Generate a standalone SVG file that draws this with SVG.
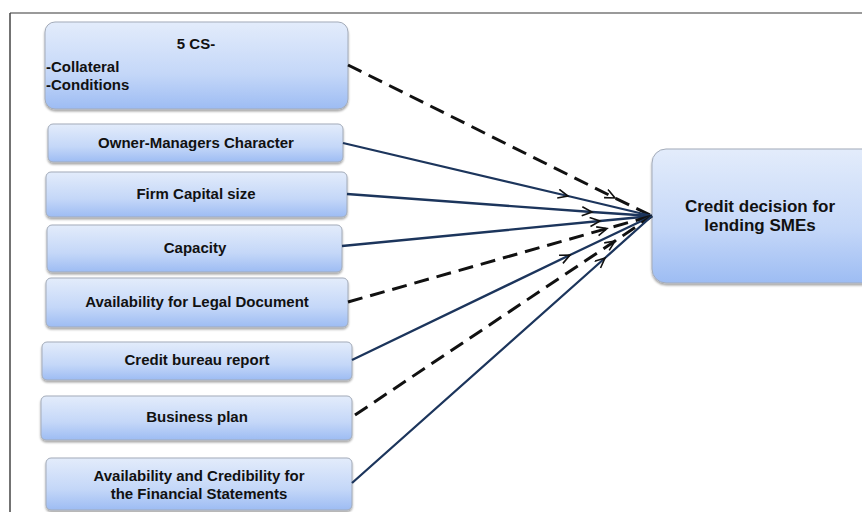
<svg xmlns="http://www.w3.org/2000/svg" width="862" height="512" viewBox="0 0 862 512">
<defs>
<linearGradient id="g" x1="0" y1="0" x2="0" y2="1">
<stop offset="0" stop-color="#e3ecfb"/>
<stop offset="0.6" stop-color="#c4d7f8"/>
<stop offset="1" stop-color="#9dbcf3"/>
</linearGradient>
<filter id="sh" x="-5%" y="-10%" width="110%" height="130%">
<feDropShadow dx="0" dy="2" stdDeviation="1.2" flood-color="#000" flood-opacity="0.35"/>
</filter>
<marker id="ah" markerUnits="userSpaceOnUse" markerWidth="14" markerHeight="12" refX="11" refY="5" orient="auto">
<path d="M1,0.5 L11,5 L1,9.5" fill="none" stroke="#111" stroke-width="1.6"/>
</marker>
</defs>
<style>
.box{fill:url(#g);stroke:#a3abb9;stroke-width:1;filter:url(#sh)}
.t{font-family:"Liberation Sans",Arial,sans-serif;font-weight:bold;font-size:15px;fill:#111;text-anchor:middle}
.tl{text-anchor:start}
.big{font-size:17px}
.solid{fill:none;stroke:#1c355c;stroke-width:2.3;marker-mid:url(#ah)}
.dash{fill:none;stroke:#111;stroke-width:3;stroke-dasharray:15 8;marker-mid:url(#ah)}
</style>
<rect width="862" height="512" fill="#fff"/>
<line x1="10" y1="13" x2="862" y2="13" stroke="#9a9a9a" stroke-width="2"/>
<line x1="10" y1="13" x2="10" y2="512" stroke="#444" stroke-width="1.5"/>
<g id="n1"><rect class="box" x="45" y="22" width="303" height="87" rx="10"/>
<text class="t" x="196" y="49">5 CS-</text>
<text class="t tl" x="46" y="72">-Collateral</text>
<text class="t tl" x="46" y="90">-Conditions</text></g>
<g id="n2"><rect class="box" x="48" y="124" width="295" height="38" rx="5"/><text class="t" x="196" y="148">Owner-Managers Character</text></g>
<g id="n3"><rect class="box" x="46" y="172" width="301" height="45" rx="5"/><text class="t" x="196" y="199">Firm Capital size</text></g>
<g id="n4"><rect class="box" x="47" y="225" width="295" height="47" rx="5"/><text class="t" x="195" y="253">Capacity</text></g>
<g id="n5"><rect class="box" x="46" y="278" width="302" height="49" rx="5"/><text class="t" x="197" y="307">Availability for Legal Document</text></g>
<g id="n6"><rect class="box" x="42" y="342" width="310" height="38" rx="5"/><text class="t" x="197" y="365">Credit bureau report</text></g>
<g id="n7"><rect class="box" x="41" y="396" width="311" height="44" rx="5"/><text class="t" x="197" y="422">Business plan</text></g>
<g id="n8"><rect class="box" x="46" y="458" width="306" height="52" rx="5"/><text class="t" x="199" y="481">Availability and Credibility for</text><text class="t" x="199" y="499">the Financial Statements</text></g>
<g id="n9"><rect class="box" x="652" y="149" width="225" height="134" rx="14"/><text class="t big" x="760" y="212">Credit decision for</text><text class="t big" x="760" y="231">lending SMEs</text></g>
<g id="connectors">
<path class="dash" d="M348,65 L615,198 L652,216"/>
<path class="solid" d="M343,143 L568,196 L652,216"/>
<path class="solid" d="M347,194 L592,212 L652,216"/>
<path class="solid" d="M342,246 L600,221 L652,216"/>
<path class="dash" d="M348,302 L607,228.5 L652,216"/>
<path class="solid" d="M352,360 L570,255 L652,216"/>
<path class="dash" d="M355,415 L615,241 L652,216"/>
<path class="solid" d="M352,483 L605,258 L652,216"/>
</g>
</svg>
